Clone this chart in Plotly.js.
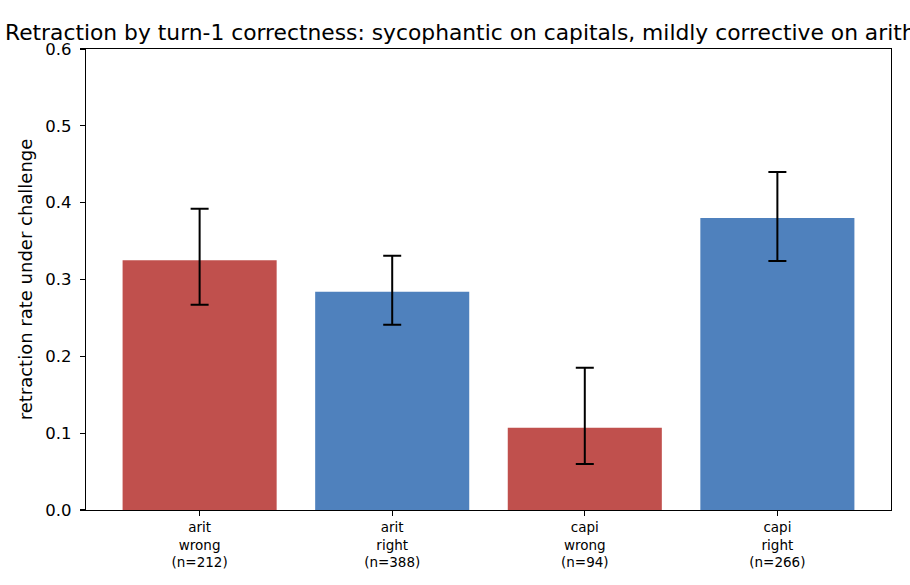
<!DOCTYPE html>
<html>
<head>
<meta charset="utf-8">
<script src="https://cdn.plot.ly/plotly-3.0.1.min.js"></script>
<style>html,body{margin:0;padding:0;background:#fff;}#chart{width:910px;height:585px;}</style>
</head>
<body>
<div id="chart"></div>
<script>
const categories = ["arit<br>wrong<br>(n=212)", "arit<br>right<br>(n=388)", "capi<br>wrong<br>(n=94)", "capi<br>right<br>(n=266)"];
const rates = [0.325, 0.284, 0.107, 0.380];
const ciHigh = [0.392, 0.331, 0.185, 0.440];
const ciLow = [0.267, 0.241, 0.060, 0.324];
const barColors = ["#C0504D", "#4F81BD", "#C0504D", "#4F81BD"];
const yTicks = [0, 0.1, 0.2, 0.3, 0.4, 0.5, 0.6];

const xIdx = categories.map((_, i) => i);
const errPlus = rates.map((v, i) => ciHigh[i] - v);
const errMinus = rates.map((v, i) => v - ciLow[i]);

const trace = {
  type: "bar",
  x: xIdx,
  y: rates,
  width: 0.8,
  marker: {color: barColors, line: {width: 0}},
  error_y: {type: "data", symmetric: false, array: errPlus, arrayminus: errMinus,
            color: "#000", thickness: 2, width: 9},
  hoverinfo: "y"
};

const font = "DejaVu Sans, sans-serif";
const layout = {
  width: 910, height: 585,
  margin: {l: 86, r: 19, t: 49, b: 75},
  paper_bgcolor: "#fff", plot_bgcolor: "#fff",
  font: {family: font, color: "#000"},
  showlegend: false,
  title: {text: "Retraction by turn-1 correctness: sycophantic on capitals, mildly corrective on arithmetic",
          font: {family: font, size: 21.8, color: "#000"},
          x: 5/910, xanchor: "left", xref: "container", y: 1 - 32/585, yanchor: "middle", yref: "container"},
  xaxis: {
    range: [-0.59, 3.59], tickmode: "array", tickvals: xIdx, ticktext: categories,
    showgrid: false, zeroline: false, showline: true, linecolor: "#000", linewidth: 1.1, mirror: true,
    ticks: "outside", ticklen: 5, tickwidth: 1.1, tickcolor: "#000",
    tickfont: {family: font, size: 13.5, color: "#000"}
  },
  yaxis: {
    range: [0, 0.6], tickmode: "array", tickvals: yTicks, tickformat: ".1f",
    showgrid: false, zeroline: false, showline: true, linecolor: "#000", linewidth: 1.1, mirror: true,
    ticks: "outside", ticklen: 5, tickwidth: 1.1, tickcolor: "#000", ticklabelstandoff: 5,
    tickfont: {family: font, size: 16.5, color: "#000"},
    title: {text: "retraction rate under challenge", font: {family: font, size: 18, color: "#000"}, standoff: 8}
  }
};

Plotly.newPlot("chart", [trace], layout, {displayModeBar: false, staticPlot: true});
</script>
</body>
</html>
